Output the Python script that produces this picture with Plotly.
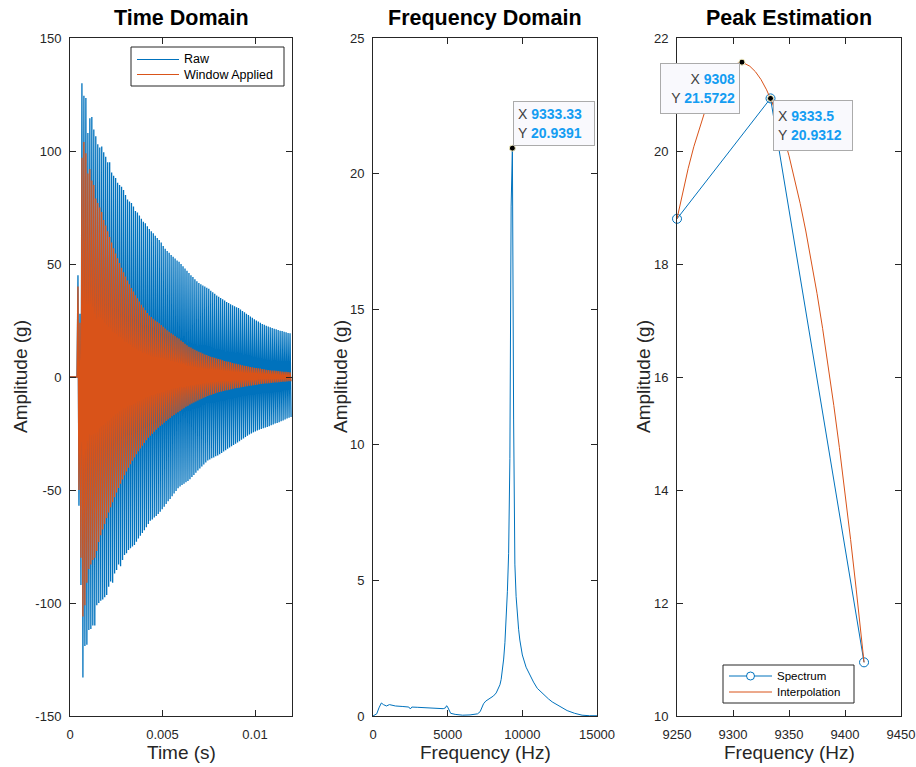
import numpy as np
import plotly.graph_objects as go

# ---------------- Time domain ----------------
# Response ringing at the resonance; values are the successive positive and
# negative peaks (g), one pair per cycle, starting at T_FIRST_PEAK.
SIGNAL_FREQ_HZ = 9333.33
T_FIRST_PEAK = 0.00043          # s
QUIET_T = [0.0, 0.00038]        # s, record before the impact
QUIET_G = [0.0, 0.0]

RAW_POS = [
    45, 28,
    130, 124.5, 123.5, 108, 114.5, 115, 109.5, 106.5, 103, 101.5,
    102, 99.5, 97.5, 95, 95, 90.5, 89, 88, 86, 85,
    84.2, 82.7, 80.5, 78.5, 77.6, 77, 75.4, 73.5, 72.8, 71.5,
    70, 68.7, 68, 66.7, 65.5, 64.5, 63.6, 62.5, 61.5, 60.6,
    59.5, 58, 56.8, 55.8, 55, 54, 53.2, 52.4, 51.6, 51,
    50, 49, 48, 47, 46, 45, 44.2, 43.3, 42.4, 41.6,
    41, 40.5, 40, 39.5, 39, 38.2, 37.5, 36.8, 36.1, 35.5,
    35, 34.4, 33.8, 33.2, 32.7, 32.2, 31.8, 31.3, 30.9, 30.5,
    29.9, 29.2, 28.6, 28, 27.4, 26.8, 26.2, 25.6, 25, 24.5,
    24, 23.5, 23.1, 22.7, 22.3, 22, 21.7, 21.4, 21.1, 20.8,
    20.5, 20.3, 20, 19.8, 19.5, 19.3,
]
RAW_NEG = [
    -57, -92,
    -133, -119, -118.5, -112, -111.5, -110, -110, -101, -100, -99,
    -98.5, -97.5, -96.5, -92.8, -90.5, -91, -87, -85.4, -83, -83.7,
    -81, -78.8, -78, -76.5, -75.8, -75, -74.3, -72.9, -71.5, -70.2,
    -69, -67.8, -66.5, -65, -63.6, -63, -62.2, -61.5, -60.6, -59.6,
    -58.5, -57.4, -56.2, -55, -54, -52.8, -51.6, -50.4, -49.2, -48.4,
    -47.8, -47.2, -46.6, -46, -45.2, -44.3, -43.4, -42.4, -41.4, -40.5,
    -39.6, -38.7, -37.8, -37, -36.5, -36, -35.6, -35.1, -34.7, -34.2,
    -33.6, -33, -32.4, -31.8, -31.2, -30.6, -30.1, -29.5, -29, -28.4,
    -27.8, -27.2, -26.6, -26, -25.4, -25, -24.5, -24.1, -23.7, -23.3,
    -23, -22.7, -22.4, -22.1, -21.8, -21.4, -21, -20.6, -20.3, -20,
    -19.6, -19.2, -18.8, -18.4, -18, -17.7,
]
WIN_POS = [
    40, 24,
    97, 104, 99, 90, 92, 87, 85, 79, 77, 75,
    73, 69.5, 67, 64.5, 62, 59.5, 57, 54.7, 52.5, 50.4,
    48.3, 46.4, 44.5, 42.7, 41, 39.4, 37.8, 36.2, 34.8, 33.4,
    32, 30.7, 29.5, 28.3, 27.2, 26.5, 25.8, 25, 24.4, 23.8,
    23, 22.2, 21.5, 20.7, 20, 19.4, 18.8, 18.1, 17.5, 17,
    16.2, 15.5, 14.7, 14, 13.4, 13, 12.5, 12.1, 11.6, 11.2,
    10.8, 10.4, 10, 9.7, 9.3, 9, 8.7, 8.5, 8.2, 8,
    7.7, 7.4, 7.1, 6.9, 6.7, 6.5, 6.2, 6, 5.8, 5.6,
    5.4, 5.2, 5, 4.8, 4.6, 4.4, 4.3, 4.1, 4, 3.8,
    3.7, 3.5, 3.4, 3.2, 3.1, 3, 2.9, 2.8, 2.7, 2.6,
    2.5, 2.4, 2.3, 2.3, 2.2, 2.1,
]
WIN_NEG = [
    -50, -80,
    -106, -101, -91, -85, -83, -81, -80, -77, -73, -70,
    -67.5, -65, -62.4, -60, -57.6, -55.4, -53.2, -51.1, -49.1, -47.2,
    -45.3, -43.5, -41.8, -40.2, -38.6, -37.1, -35.6, -34.2, -32.9, -31.6,
    -30.4, -29.2, -28, -26.9, -26, -25.1, -24.2, -23.3, -22.5, -21.7,
    -21, -20.2, -19.5, -18.8, -18.1, -17.4, -16.8, -16.2, -15.6, -15,
    -14.4, -13.8, -13.2, -12.7, -12.2, -11.7, -11.3, -10.8, -10.4, -10,
    -9.6, -9.2, -8.8, -8.4, -8.1, -7.8, -7.5, -7.2, -6.9, -6.6,
    -6.4, -6.2, -6, -5.8, -5.6, -5.4, -5.2, -5, -4.8, -4.7,
    -4.5, -4.4, -4.2, -4.1, -3.9, -3.8, -3.6, -3.5, -3.4, -3.2,
    -3.1, -3, -2.9, -2.8, -2.7, -2.6, -2.5, -2.4, -2.4, -2.3,
    -2.2, -2.1, -2.1, -2, -1.9, -1.9,
]

# ---------------- Frequency domain ----------------
FREQ_HZ = [0, 250, 400, 560, 700, 900, 1100, 1500, 2000, 2400, 2500, 2600,
           3000, 3500, 4000, 4700, 4850, 4930, 5000, 5100, 5200, 5500, 6000,
           6500, 7000, 7175, 7300, 7400, 7550, 7735, 7900, 8071, 8250, 8400,
           8500, 8583, 8667, 8750, 8833, 8917, 9000, 9083, 9167, 9250,
           9333.33, 9416.67, 9500, 9583, 9667, 9750, 9833, 9917, 10000,
           10250, 10500, 10750, 11000, 11250, 11500, 11750, 12000, 12500,
           13000, 13500, 14000, 14500, 15000]
SPEC_G = [0, 0.08, 0.3, 0.48, 0.42, 0.37, 0.42, 0.37, 0.35, 0.33, 0.26, 0.33,
          0.32, 0.31, 0.29, 0.27, 0.3, 0.38, 0.33, 0.18, 0.1, 0.06, 0.03,
          0.04, 0.08, 0.16, 0.3, 0.45, 0.55, 0.61, 0.67, 0.74, 0.85, 1.0,
          1.15, 1.35, 1.65, 2.1, 2.7, 3.6, 4.6, 6.0, 9.5, 18.8,
          20.9391, 10.95, 5.6, 4.4, 3.7, 3.2, 2.8, 2.5, 2.25,
          1.8, 1.5, 1.25, 1.02, 0.88, 0.75, 0.63, 0.52, 0.35,
          0.2, 0.1, 0.03, 0.01, 0.01]
FD_PEAK = (9333.33, 20.9391)

# ---------------- Peak estimation ----------------
PEAK_BIN_HZ = [9250, 9333.5, 9417]
PEAK_BIN_G = [18.8, 20.9312, 10.95]
INTERP_HZ = [9250, 9255, 9260, 9265, 9270, 9275, 9280, 9285, 9290, 9295, 9300,
             9305, 9308, 9310, 9315, 9320, 9325, 9330, 9333.5, 9335, 9340,
             9345, 9350, 9355, 9360, 9365, 9370, 9375, 9380, 9385, 9390,
             9395, 9400, 9405, 9410, 9415, 9417]
INTERP_G = [18.80, 19.268, 19.693, 20.075, 20.413, 20.707, 20.958, 21.166,
            21.330, 21.451, 21.529, 21.563, 21.5722, 21.553, 21.501, 21.404,
            21.265, 21.082, 20.9312, 20.855, 20.585, 20.272, 19.915, 19.515,
            19.071, 18.584, 18.054, 17.48, 16.862, 16.202, 15.497, 14.75,
            13.959, 13.124, 12.246, 11.325, 10.95]
TIP_MAX = (9308, 21.5722)
TIP_BIN = (9333.5, 20.9312)

# ---------------- Styling ----------------
W, H = 916, 767
FONT = "Liberation Sans, Arial, Helvetica, sans-serif"
BLUE = "#0072BD"
ORANGE = "#D95319"
AXIS = "#262626"
TIP_VALUE = "#149DF2"
TIP_LABEL = "#404040"


def px(x):
    return x / W


def py(y):
    return 1 - y / H


def xdom(left, right):
    return [px(left), px(right)]


def ydom(top, bottom):
    return [py(bottom), py(top)]


def interleave(pos, neg):
    out = []
    for p, n in zip(pos, neg):
        out.extend([p, n])
    return out


raw_vals = interleave(RAW_POS, RAW_NEG)
win_vals = interleave(WIN_POS, WIN_NEG)
half_period = 1.0 / (2 * SIGNAL_FREQ_HZ)
t_peaks = T_FIRST_PEAK + half_period * np.arange(len(raw_vals))
t_all = np.concatenate([QUIET_T, t_peaks])

fig = go.Figure()

fig.add_trace(go.Scatter(x=t_all, y=QUIET_G + raw_vals, mode="lines",
                         line=dict(color=BLUE, width=1.3), name="Raw",
                         showlegend=False, xaxis="x", yaxis="y"))
fig.add_trace(go.Scatter(x=t_all, y=QUIET_G + win_vals, mode="lines",
                         line=dict(color=ORANGE, width=1.3),
                         name="Window Applied", showlegend=False,
                         xaxis="x", yaxis="y"))

fig.add_trace(go.Scatter(x=FREQ_HZ, y=SPEC_G, mode="lines",
                         line=dict(color=BLUE, width=1), showlegend=False,
                         xaxis="x2", yaxis="y2"))
fig.add_trace(go.Scatter(x=[FD_PEAK[0]], y=[FD_PEAK[1]], mode="markers",
                         marker=dict(color="black", size=6,
                                     line=dict(color="#F3EDC0", width=1)),
                         showlegend=False, cliponaxis=False,
                         xaxis="x2", yaxis="y2"))

fig.add_trace(go.Scatter(x=PEAK_BIN_HZ, y=PEAK_BIN_G, mode="lines+markers",
                         line=dict(color=BLUE, width=1),
                         marker=dict(symbol="circle-open", size=9, color=BLUE,
                                     line=dict(width=1)),
                         name="Spectrum", showlegend=False, cliponaxis=False,
                         xaxis="x3", yaxis="y3"))
fig.add_trace(go.Scatter(x=INTERP_HZ, y=INTERP_G, mode="lines",
                         line=dict(color=ORANGE, width=1),
                         name="Interpolation", showlegend=False,
                         xaxis="x3", yaxis="y3"))
fig.add_trace(go.Scatter(x=[TIP_MAX[0], TIP_BIN[0]], y=[TIP_MAX[1], TIP_BIN[1]],
                         mode="markers",
                         marker=dict(color="black", size=6,
                                     line=dict(color="#F3EDC0", width=1)),
                         showlegend=False, cliponaxis=False,
                         xaxis="x3", yaxis="y3"))

axis_style = dict(showline=True, linecolor=AXIS, linewidth=1, mirror="ticks",
                  ticks="inside", ticklen=6, tickcolor=AXIS, tickwidth=1,
                  showgrid=False, zeroline=False, automargin=False,
                  tickfont=dict(family=FONT, size=13, color=AXIS))

Y_DOM = ydom(38, 716)

fig.update_layout(
    template="none",
    width=W, height=H,
    margin=dict(l=0, r=0, t=0, b=0, pad=0, autoexpand=False),
    paper_bgcolor="white", plot_bgcolor="white",
    font=dict(family=FONT, color=AXIS),
    hovermode=False, showlegend=False,
    xaxis=dict(axis_style, domain=xdom(70, 292), range=[0, 0.012],
               tickvals=[0, 0.005, 0.01], ticktext=["0", "0.005", "0.01"],
               anchor="y", ticklabelstandoff=6),
    yaxis=dict(axis_style, domain=Y_DOM, range=[-150, 150],
               tickvals=[-150, -100, -50, 0, 50, 100, 150],
               ticktext=["-150", "-100", "-50", "0", "50", "100", "150"],
               anchor="x", ticklabelstandoff=5),
    xaxis2=dict(axis_style, domain=xdom(373, 597), range=[0, 15000],
                tickvals=[0, 5000, 10000, 15000],
                ticktext=["0", "5000", "10000", "15000"],
                anchor="y2", ticklabelstandoff=6),
    yaxis2=dict(axis_style, domain=Y_DOM, range=[0, 25],
                tickvals=[0, 5, 10, 15, 20, 25],
                ticktext=["0", "5", "10", "15", "20", "25"],
                anchor="x2", ticklabelstandoff=5),
    xaxis3=dict(axis_style, domain=xdom(677, 901), range=[9250, 9450],
                tickvals=[9250, 9300, 9350, 9400, 9450],
                ticktext=["9250", "9300", "9350", "9400", "9450"],
                anchor="y3", ticklabelstandoff=6),
    yaxis3=dict(axis_style, domain=Y_DOM, range=[10, 22],
                tickvals=[10, 12, 14, 16, 18, 20, 22],
                ticktext=["10", "12", "14", "16", "18", "20", "22"],
                anchor="x3", ticklabelstandoff=5),
)

annotations = []
shapes = []

# Panel titles
for label, (l, r) in [("Time Domain", (70, 292)),
                      ("Frequency Domain", (373, 597)),
                      ("Peak Estimation", (677, 901))]:
    annotations.append(dict(text=f"<b>{label}</b>", xref="paper", yref="paper",
                            x=px((l + r) / 2), y=py(18), showarrow=False,
                            xanchor="center", yanchor="middle",
                            font=dict(family=FONT, size=21.5, color="black")))

# Axis titles
for label, xc in [("Time (s)", 181), ("Frequency (Hz)", 485),
                  ("Frequency (Hz)", 789)]:
    annotations.append(dict(text=label, xref="paper", yref="paper",
                            x=px(xc), y=py(752), showarrow=False,
                            xanchor="center", yanchor="middle",
                            font=dict(family=FONT, size=19, color=AXIS)))
for xc in (20, 340, 643):
    annotations.append(dict(text="Amplitude (g)", xref="paper", yref="paper",
                            x=px(xc), y=py(377), showarrow=False,
                            textangle=-90, xanchor="center", yanchor="middle",
                            font=dict(family=FONT, size=19, color=AXIS)))


# Legends (box, sample lines, labels) laid out in pixel units
def legend_box(left, top, right, bottom, entries, font_size):
    shapes.append(dict(type="rect", xref="paper", yref="paper",
                       x0=px(left), x1=px(right), y0=py(bottom), y1=py(top),
                       line=dict(color=AXIS, width=1), fillcolor="white",
                       layer="above"))
    for label, color, yc, x0, x1, tx, marker in entries:
        shapes.append(dict(type="line", xref="paper", yref="paper",
                           x0=px(x0), x1=px(x1), y0=py(yc), y1=py(yc),
                           line=dict(color=color, width=1), layer="above"))
        if marker:
            xm = (x0 + x1) / 2
            shapes.append(dict(type="circle", xref="paper", yref="paper",
                               x0=px(xm - 4), x1=px(xm + 4),
                               y0=py(yc + 4), y1=py(yc - 4),
                               line=dict(color=color, width=1),
                               fillcolor="white", layer="above"))
        annotations.append(dict(text=label, xref="paper", yref="paper",
                                x=px(tx), y=py(yc), showarrow=False,
                                xanchor="left", yanchor="middle",
                                font=dict(family=FONT, size=font_size,
                                          color="black")))


legend_box(131, 47, 284, 86,
           [("Raw", BLUE, 59.5, 137, 179, 182, False),
            ("Window Applied", ORANGE, 74.5, 137, 179, 182, False)], 12.5)
legend_box(723, 665, 854, 703,
           [("Spectrum", BLUE, 676, 729, 772, 775, True),
            ("Interpolation", ORANGE, 692, 729, 772, 775, False)], 11.5)


def tip_text(xv, yv):
    return (f"<span style='color:{TIP_LABEL}'>X </span><b>{xv}</b><br>"
            f"<span style='color:{TIP_LABEL}'>Y </span><b>{yv}</b>")


tip_common = dict(showarrow=False, bgcolor="#F9F9FD", bordercolor="#ABABAB",
                  borderwidth=1, borderpad=4,
                  font=dict(family=FONT, size=14, color=TIP_VALUE))

annotations.append(dict(tip_common, text=tip_text("9333.33", "20.9391"),
                        xref="x2", yref="y2", x=FD_PEAK[0], y=FD_PEAK[1],
                        xanchor="left", yanchor="bottom", align="left",
                        xshift=1, yshift=2, width=72, height=35))
annotations.append(dict(tip_common, text=tip_text("9308", "21.5722"),
                        xref="x3", yref="y3", x=TIP_MAX[0], y=TIP_MAX[1],
                        xanchor="right", yanchor="top", align="right",
                        xshift=-2, yshift=-1, width=70, height=41))
annotations.append(dict(tip_common, text=tip_text("9333.5", "20.9312"),
                        xref="x3", yref="y3", x=TIP_BIN[0], y=TIP_BIN[1],
                        xanchor="left", yanchor="top", align="left",
                        xshift=2, yshift=-2, width=70, height=41))

fig.update_layout(annotations=annotations, shapes=shapes)

fig.write_html("out.html")
